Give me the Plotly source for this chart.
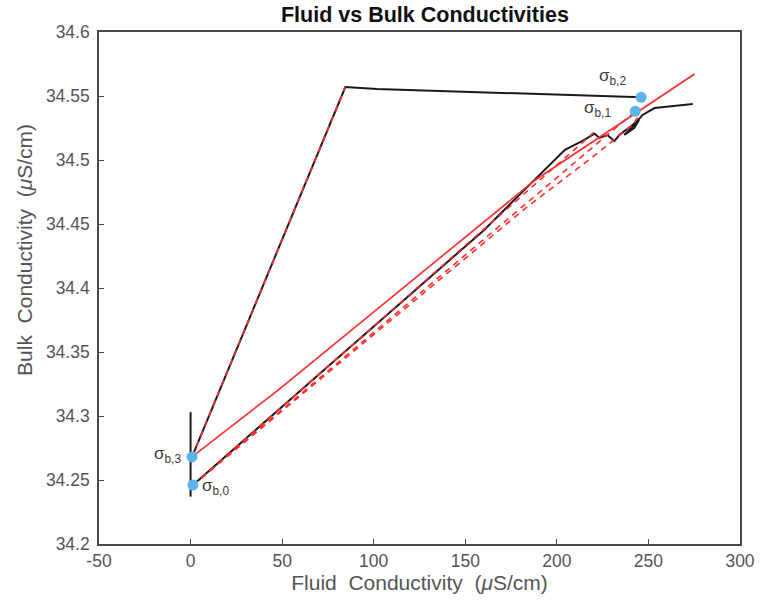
import plotly.graph_objects as go

# Fluid conductivity (uS/cm) vs bulk conductivity (uS/cm)

# Measured trajectory: vertical jump at the start
start_fluid = [0, 0]
start_bulk = [34.303, 34.237]

# Measured trajectory: main rise with wiggles at the top
rise_fluid = [1.3, 40, 80, 120, 160, 204.4, 214, 220.6, 223.3, 227.6, 231.4, 234.1,
              241.2, 244.9, 242.2, 236.8, 240, 246.8, 253.3, 274.2]
rise_bulk = [34.246, 34.295, 34.345, 34.395, 34.445, 34.508, 34.515, 34.5205, 34.5172,
             34.5195, 34.5148, 34.5195, 34.5273, 34.5313, 34.525, 34.5195, 34.524,
             34.5352, 34.5406, 34.5438]

# Measured trajectory: second leg through the overshoot
leg_fluid = [0.8, 84.5, 101.8, 246.0]
leg_bulk = [34.268, 34.557, 34.5555, 34.549]

# Reference line from sigma_b,3
ref_fluid = [0.8, 47.8, 188.2, 275.2]
ref_bulk = [34.268, 34.3203, 34.4844, 34.5672]

# Dashed model lines
model_a_fluid = [0.8, 84.5]
model_a_bulk = [34.268, 34.557]
model_b_fluid = [1.3, 221.0]
model_b_bulk = [34.246, 34.5225]
model_c_fluid = [1.3, 242.8]
model_c_bulk = [34.246, 34.538]
model_d_fluid = [1.3, 183.0, 217.4, 241.0, 244.0]
model_d_bulk = [34.246, 34.4625, 34.500, 34.527, 34.533]

# Marked bulk conductivity states
state_names = ["σ<sub>b,0</sub>", "σ<sub>b,1</sub>", "σ<sub>b,2</sub>", "σ<sub>b,3</sub>"]
state_fluid = [1.3, 242.8, 246.0, 0.8]
state_bulk = [34.246, 34.538, 34.549, 34.268]

# Axis ticks
x_ticks = [-50, 0, 50, 100, 150, 200, 250, 300]
x_tick_text = ["-50", "0", "50", "100", "150", "200", "250", "300"]
y_ticks = [34.2, 34.25, 34.3, 34.35, 34.4, 34.45, 34.5, 34.55, 34.6]
y_tick_text = ["34.2", "34.25", "34.3", "34.35", "34.4", "34.45", "34.5", "34.55", "34.6"]

BLACK = "#1a1a1a"
RED = "#ff2a2a"
DOT = "#5db4ea"
FONT = "Liberation Sans, Arial"
GAP = "\u00a0 "

fig = go.Figure()

for fx, by in [(start_fluid, start_bulk), (rise_fluid, rise_bulk), (leg_fluid, leg_bulk)]:
    fig.add_trace(go.Scatter(x=fx, y=by, mode="lines",
                             line=dict(color=BLACK, width=2), showlegend=False))

fig.add_trace(go.Scatter(x=ref_fluid, y=ref_bulk, mode="lines",
                         line=dict(color=RED, width=1.6), showlegend=False))

for fx, by in [(model_a_fluid, model_a_bulk), (model_b_fluid, model_b_bulk),
               (model_c_fluid, model_c_bulk), (model_d_fluid, model_d_bulk)]:
    fig.add_trace(go.Scatter(x=fx, y=by, mode="lines",
                             line=dict(color=RED, width=1.6, dash="6px,5px"),
                             showlegend=False))

fig.add_trace(go.Scatter(x=state_fluid, y=state_bulk, mode="markers",
                         marker=dict(color=DOT, size=11), showlegend=False))

# State labels
label_pos = [("left", "middle", 7, -2), ("right", "middle", -22, 2),
             ("right", "bottom", -13, 7), ("right", "middle", -9, 2)]
for name, fx, by, (xa, ya, dx, dy) in zip(state_names, state_fluid, state_bulk, label_pos):
    fig.add_annotation(x=fx, y=by, text=name, showarrow=False, xanchor=xa, yanchor=ya,
                       xshift=dx, yshift=dy,
                       font=dict(family=FONT, size=17, color="#3a3a3a"))

# Vertical axis title
fig.add_annotation(xref="paper", yref="paper", x=-0.1173, y=0.574,
                   text="Bulk" + GAP + "Conductivity" + GAP + "(<i>μ</i>S/cm)",
                   textangle=-90, showarrow=False, xanchor="center", yanchor="middle",
                   font=dict(family=FONT, size=21, color="#555555"))

axis_common = dict(showline=True, mirror=True, linecolor="#4a4a4a", linewidth=1.6,
                   ticks="inside", ticklen=5, tickcolor="#4a4a4a", tickwidth=1.3,
                   showgrid=False, zeroline=False,
                   tickfont=dict(family=FONT, size=17.5, color="#555555"))

fig.update_xaxes(range=[-50, 300], tickvals=x_ticks, ticktext=x_tick_text,
                 title=dict(text="Fluid" + GAP + "Conductivity" + GAP + "(<i>μ</i>S/cm)",
                            font=dict(family=FONT, size=21, color="#555555"),
                            standoff=2),
                 **axis_common)
fig.update_yaxes(range=[34.2, 34.6], tickvals=y_ticks, ticktext=y_tick_text,
                 ticklabelstandoff=4,
                 **axis_common)

fig.update_layout(
    width=767, height=607,
    margin=dict(l=99, r=20, t=32, b=63),
    plot_bgcolor="white", paper_bgcolor="white",
    title=dict(text="<b>Fluid vs Bulk Conductivities</b>", x=0.554, xanchor="center",
               y=0.976, yanchor="middle",
               font=dict(family=FONT, size=21.5, color="#111111")),
)

fig.write_html("out.html")
